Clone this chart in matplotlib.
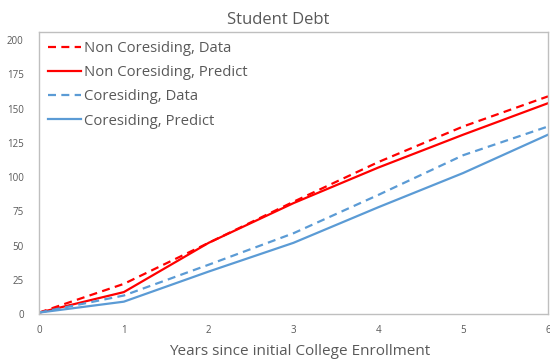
import matplotlib
matplotlib.use("Agg")
import matplotlib.pyplot as plt

years = [0, 1, 2, 3, 4, 5, 6]
non_cores_data = [1, 22, 52, 82, 111, 137, 159]
non_cores_pred = [1, 16, 52, 81, 107, 131, 154]
cores_data = [1, 13.5, 36, 59, 87, 116, 137]
cores_pred = [1, 9, 31, 52, 78, 103, 131]
y_ticks = [0, 25, 50, 75, 100, 125, 150, 175, 200]
x_ticks = [0, 1, 2, 3, 4, 5, 6]

plt.rcParams['font.family'] = ['Open Sans', 'DejaVu Sans']
txt = '#595959'
red = '#FF0000'
blue = '#5B9BD5'

fig = plt.figure(figsize=(5.5, 3.64), dpi=100)
ax = fig.add_axes([0.0709, 0.1374, 0.9255, 0.7746])

dash = (3.6, 2.4)
ax.plot(years, non_cores_data, color=red, lw=1.6, ls=(0, dash), label='Non Coresiding, Data')
ax.plot(years, non_cores_pred, color=red, lw=1.6, label='Non Coresiding, Predict')
ax.plot(years, cores_data, color=blue, lw=1.6, ls=(0, dash), label='Coresiding, Data')
ax.plot(years, cores_pred, color=blue, lw=1.6, label='Coresiding, Predict')

ax.set_xlim(0, 6)
ax.set_ylim(0, 206)
ax.set_xticks(x_ticks)
ax.set_yticks(y_ticks)
ax.tick_params(length=0, labelsize=7, colors=txt, pad=8)
ax.tick_params(axis='y', pad=11)
for s in ax.spines.values():
    s.set_color('#BFBFBF')
    s.set_linewidth(1.0)

ax.set_title('Student Debt', fontsize=12, color=txt, pad=6, x=0.47)
ax.set_xlabel('Years since initial College Enrollment', fontsize=11, color=txt)
ax.xaxis.set_label_coords(0.513, -0.105)

leg = ax.legend(loc='upper left', frameon=False, fontsize=10.7, handlelength=2.2,
                handletextpad=0.2, labelspacing=0.62, borderaxespad=0.2,
                bbox_to_anchor=(0.0, 1.0))
for t in leg.get_texts():
    t.set_color(txt)

fig.savefig('out.png', dpi=100)
